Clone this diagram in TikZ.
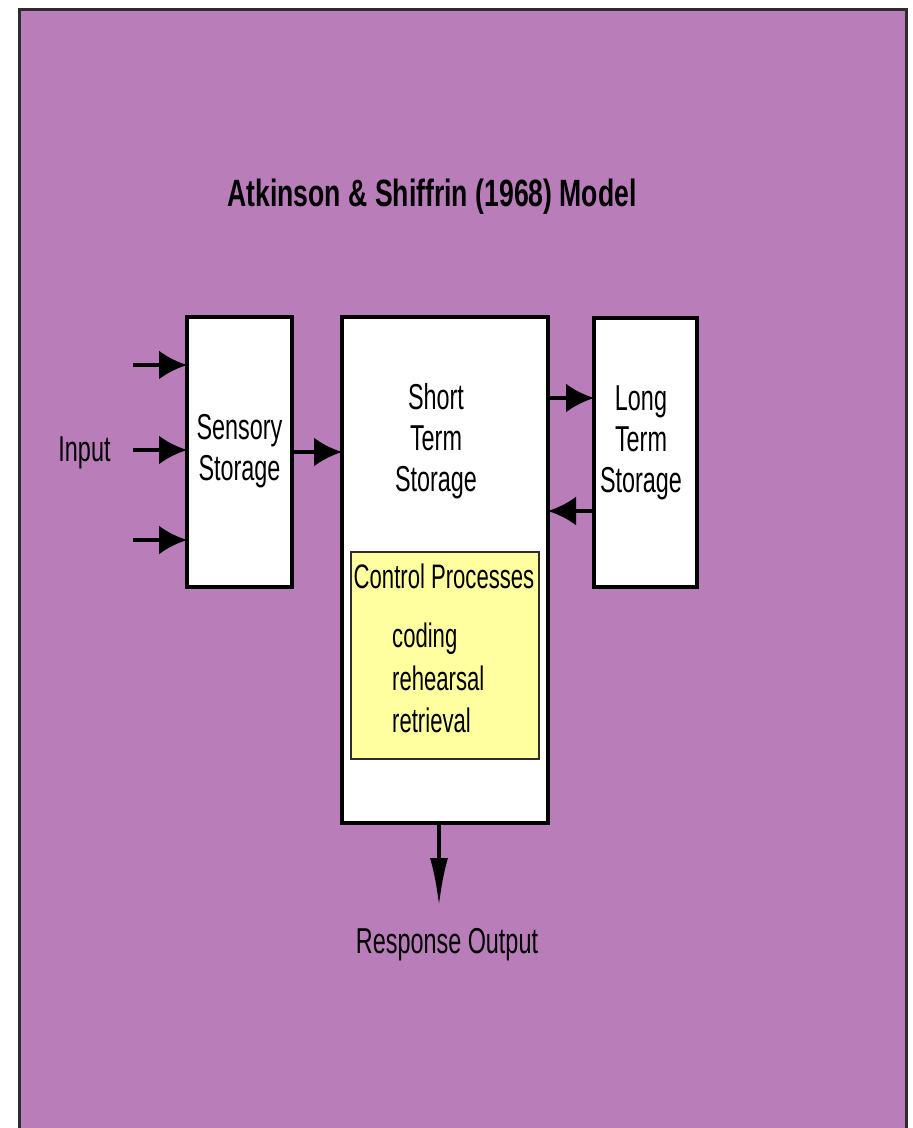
\documentclass[tikz,border=0pt]{standalone}
\usepackage{fontspec}
\newfontfamily\lab[FakeStretch=0.65]{Liberation Sans}
\newfontfamily\ttlfont[FakeStretch=0.7]{Liberation Sans}
\usetikzlibrary{arrows.meta}
\definecolor{bgpurple}{RGB}{185,125,185}
\definecolor{procyellow}{RGB}{255,255,160}
\definecolor{framegray}{RGB}{45,45,45}
\begin{document}
\begin{tikzpicture}[x=1pt,y=-1pt,
  store/.style={draw=black, line width=3.5pt, fill=white, inner sep=0pt, outer sep=0pt},
  txt/.style={font=\lab\fontsize{36}{41}\selectfont, align=center, inner sep=0pt},
  smalltxt/.style={font=\lab\fontsize{34}{42}\selectfont, inner sep=0pt},
  arr/.style={line width=4pt, -{Latex[length=28pt,width=29pt]}},
  downarr/.style={line width=4pt, -{Latex[length=48pt,width=18pt]}}]
\useasboundingbox (0,0) rectangle (913,1128);
\fill[white] (0,0) rectangle (913,1128);
\begin{scope}
\clip (0,0) rectangle (913,1128);
\draw[framegray, line width=3pt, fill=bgpurple] (19.5,9.5) rectangle (906,1160);
\end{scope}

\node[font=\ttlfont\bfseries\fontsize{38}{42}\selectfont, inner sep=0pt, anchor=base] (title) at (432,206) {Atkinson \& Shiffrin (1968) Model};

% boxes
\node[store, minimum width=105pt, minimum height=270pt] (sens) at (239.5,452) {};
\node[store, minimum width=206pt, minimum height=506pt] (sts) at (445,570) {};
\node[store, minimum width=103pt, minimum height=269pt] (lts) at (645.5,452.5) {};
\node[draw=framegray, line width=2pt, fill=procyellow, minimum width=188pt, minimum height=207pt, inner sep=0pt] (ctrl) at (445,655.5) {};

% box texts
\node[txt] (senstxt) at (239.5,451) {Sensory\\Storage};
\node[txt] (ststxt) at (436,441) {Short\\Term\\Storage};
\node[txt] (ltstxt) at (641,443) {Long\\Term\\Storage};
\node[smalltxt, anchor=base] (ctrltxt) at (444,588) {Control Processes};
\node[smalltxt, anchor=base west] (coding) at (392,647) {coding};
\node[smalltxt, anchor=base west] (rehearsal) at (392,690) {rehearsal};
\node[smalltxt, anchor=base west] (retrieval) at (392,732) {retrieval};

% labels
\node[txt, anchor=base] (input) at (84.5,461) {Input};
\node[txt, anchor=base] (resp) at (447,953) {Response Output};

% input arrows
\coordinate (in1) at (133,365);
\coordinate (in2) at (133,450);
\coordinate (in3) at (133,540);
\draw[arr] (in1) -- (in1 -| sens.west);
\draw[arr] (in2) -- (in2 -| sens.west);
\draw[arr] (in3) -- (in3 -| sens.west);

% sensory -> STS
\coordinate (s2s) at (292,452);
\draw[arr] (s2s -| sens.east) -- (s2s -| sts.west);

% STS <-> LTS
\coordinate (up) at (545,398);
\coordinate (down) at (545,511);
\draw[arr] (up -| sts.east) -- (up -| lts.west);
\draw[arr] (down -| lts.west) -- (down -| sts.east);

% output
\coordinate (outend) at (439,906);
\draw[downarr] (sts.south -| outend) -- (outend);
\end{tikzpicture}
\end{document}
